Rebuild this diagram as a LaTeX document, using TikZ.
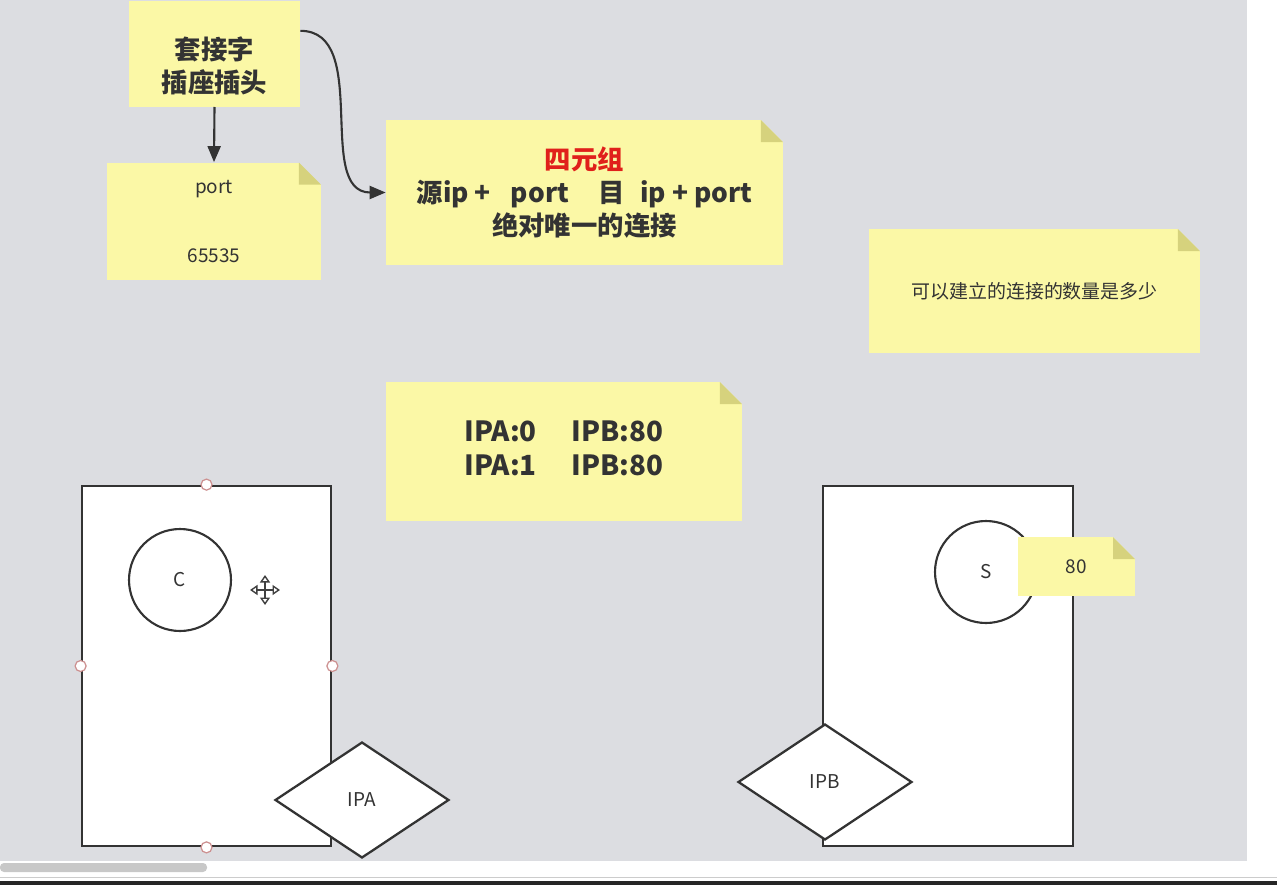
\documentclass[tikz,border=0pt]{standalone}
\usepackage{fontspec}
\setmainfont{Noto Sans CJK SC}
\usetikzlibrary{arrows.meta, shapes.geometric, calc}

\definecolor{bggray}{RGB}{220,221,225}
\definecolor{notey}{RGB}{251,248,166}
\definecolor{foldy}{RGB}{214,210,125}
\definecolor{inkgray}{RGB}{51,51,51}
\definecolor{quadred}{RGB}{224,32,27}
\definecolor{handlered}{RGB}{205,145,145}
\definecolor{bargray}{RGB}{200,200,200}

\tikzset{
  note/.style={fill=notey, inner sep=0pt, align=center, text=inkgray},
  dognote/.style={note, path picture={
    \fill[bggray] (path picture bounding box.north east) -- ++(-0.44cm,0) -- ++(0.44cm,-0.44cm) -- cycle;
    \fill[foldy] ($(path picture bounding box.north east)+(-0.44cm,0)$) -- ++(0.44cm,-0.44cm) -- ++(-0.44cm,0) -- cycle;}},
  bigtext/.style={font=\fontsize{15}{18.8}\selectfont\bfseries},
  ipatext/.style={font=\fontsize{15.8}{19.3}\selectfont\bfseries},
  smalltext/.style={font=\fontsize{10.8}{12}\selectfont},
  box/.style={draw=inkgray, line width=1.6pt, fill=white},
  ball/.style={circle, draw=inkgray, line width=1.2pt, fill=white, minimum size=2.04cm, inner sep=0pt, smalltext, text=inkgray},
  ipbox/.style={diamond, draw=inkgray, line width=1.3pt, fill=white, aspect=1.5, minimum width=3.48cm, minimum height=2.32cm, inner sep=0pt, smalltext, text=inkgray},
  handle/.style={circle, draw=handlered, fill=white, line width=0.7pt, minimum size=0.22cm, inner sep=0pt},
  link/.style={draw=inkgray, line width=1.2pt, -{Triangle[length=0.32cm, width=0.26cm]}},
}

\begin{document}
\begin{tikzpicture}[x=0.02cm, y=-0.02cm]
% backdrop of the editor
\useasboundingbox (0,0) rectangle (1277,885);
\fill[white] (0,0) rectangle (1277,885);
\fill[bggray] (0,0) rectangle (1247,861);
\fill[bargray, rounded corners=0.08cm] (0,863) rectangle (207,872);
\draw[gray!40] (0,877) -- (1277,877);
\fill[black!85] (0,881) rectangle (1277,885);

% notes
\node[note, bigtext, anchor=south, minimum width=3.42cm, text height=1.49cm, text depth=0.62cm] (sock) at (214.5,107)
  {\begin{tabular}{@{}c@{}}套接字\\插座插头\end{tabular}};
\node[dognote, smalltext, minimum width=4.28cm, minimum height=2.36cm] (port) at (214,221.5) {port\\[27pt]65535};
\node[dognote, bigtext, minimum width=7.94cm, minimum height=2.9cm] (quad) at (584.5,192.5)
  {\textcolor{quadred}{四元组}\\源ip +\hspace{0.4cm}port\hspace{0.6cm}目\hspace{0.3cm}ip + port\\绝对唯一的连接};
\node[dognote, smalltext, minimum width=6.62cm, minimum height=2.48cm] (count) at (1034.5,291) {可以建立的连接的数量是多少};
\node[dognote, ipatext, minimum width=7.12cm, minimum height=2.78cm] (pairs) at (564,451.5)
  {\begin{tabular}{@{}l@{\hspace{0.7cm}}l@{}}IPA:0 & IPB:80\\IPA:1 & IPB:80\end{tabular}};

\draw[link] (sock.south) -- (port.north);
\draw[link] ($(sock.north east)+(0,30)$) to[out=0, in=180] (quad.west);

% client host
\node[box, minimum width=4.98cm, minimum height=7.2cm] (hostA) at (206.5,666) {};
\node[ball] (cli) at (180,580) {C};
\foreach \side in {north, west, east, south}
  \node[handle] (h\side) at (hostA.\side) {};
\coordinate (mv) at (265,590);
\draw[black!75, line width=0.8pt, {Triangle[open, length=0.15cm, width=0.2cm]}-{Triangle[open, length=0.15cm, width=0.2cm]}]
  ($(mv)+(-15,0)$) -- ($(mv)+(15,0)$);
\draw[black!75, line width=0.8pt, {Triangle[open, length=0.15cm, width=0.2cm]}-{Triangle[open, length=0.15cm, width=0.2cm]}]
  ($(mv)+(0,-15)$) -- ($(mv)+(0,15)$);
\node[ipbox] (ipa) at (362,800) {IPA};

% server host
\node[box, minimum width=5cm, minimum height=7.2cm] (hostB) at (948,666) {};
\node[ball] (srv) at (986,572) {S};
\node[dognote, smalltext, minimum width=2.34cm, minimum height=1.18cm] (sport) at (1076.5,566.5) {80};
\node[ipbox] (ipb) at (825,782) {IPB};
\end{tikzpicture}
\end{document}
